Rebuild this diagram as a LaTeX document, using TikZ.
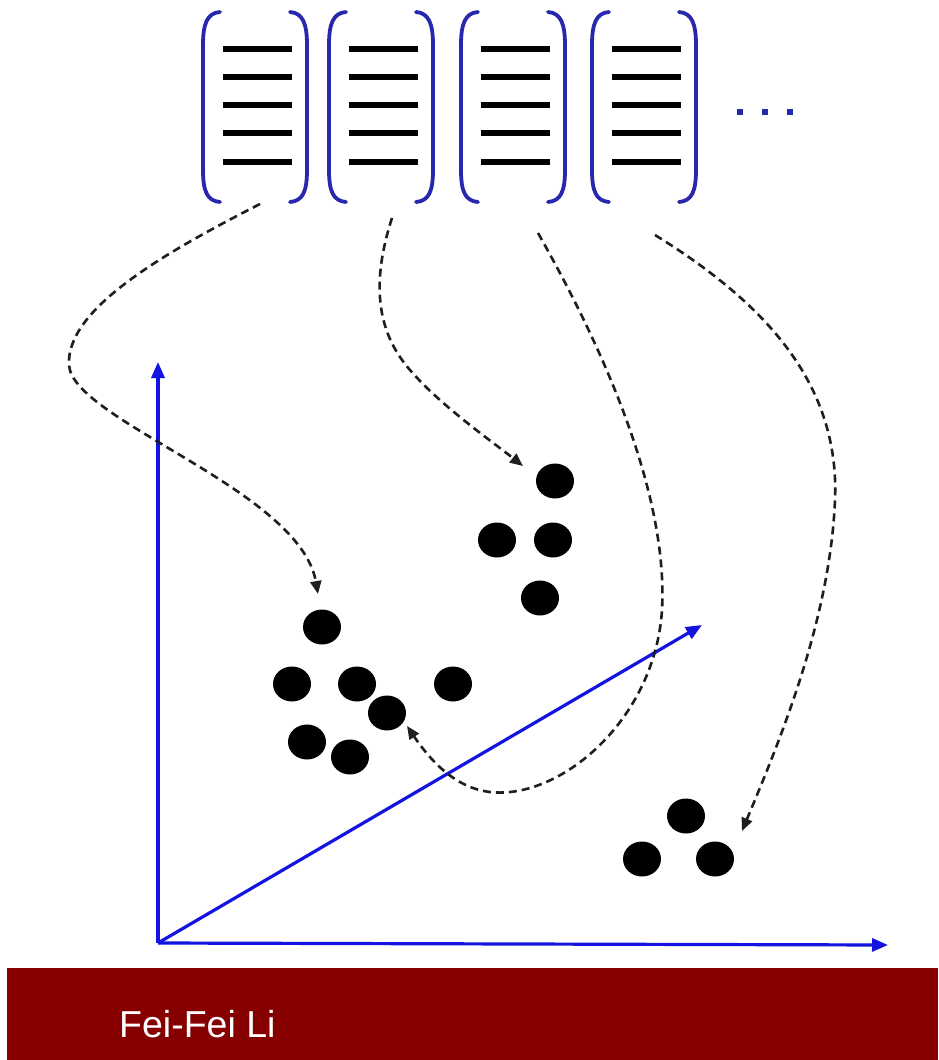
\documentclass[tikz,border=0pt]{standalone}
\usepackage{fontspec}
\setmainfont{Liberation Sans}
\usetikzlibrary{arrows.meta,shapes.geometric}
\definecolor{parcol}{RGB}{40,40,175}
\definecolor{axiscol}{RGB}{20,20,225}
\definecolor{barcol}{RGB}{135,0,0}
\definecolor{dashcol}{RGB}{30,30,30}
\tikzset{
  paren/.style={parcol, line width=3.8pt, line cap=round},
  featline/.style={black, line width=6pt},
  axisline/.style={axiscol, line width=3.2pt, -{Triangle[length=16pt,width=13pt]}},
  dot/.style={ellipse, fill=black, minimum width=38pt, minimum height=35pt, inner sep=0pt},
  maparrow/.style={dashcol, line width=2.6pt, dash pattern=on 8pt off 5pt, -{Triangle[length=13pt,width=11pt]}},
  ellipsisdot/.style={rectangle, fill=parcol, minimum size=6.5pt, inner sep=0pt}
}
\begin{document}
\begin{tikzpicture}[x=1pt,y=-1pt]
\useasboundingbox (0,0) rectangle (938,1060);
\fill[white] (0,0) rectangle (938,1060);

% feature vectors (brackets with lines)
\foreach \L in {203,329,461,592}{
  \draw[paren] (\L+17,12) .. controls (\L+4,13) and (\L,24) .. (\L,45) -- (\L,170) .. controls (\L,191) and (\L+4,201) .. (\L+17,202);
  \draw[paren] (\L+87,12) .. controls (\L+100,13) and (\L+104,24) .. (\L+104,45) -- (\L+104,170) .. controls (\L+104,191) and (\L+100,201) .. (\L+87,202);
  \foreach \y in {49,77,105,133,162}{
    \draw[featline] (\L+20,\y) -- (\L+89,\y);
  }
}
\node[ellipsisdot] (e1) at (740,112) {};
\node[ellipsisdot] (e2) at (765,112) {};
\node[ellipsisdot] (e3) at (790,112) {};

% axes
\coordinate (O) at (158,943);
\coordinate (Ytip) at (158,362);
\coordinate (Xtip) at (888,945);
\coordinate (Ztip) at (702,625);
\draw[axisline] (O) -- (Ytip);
\draw[axisline] (O) -- (Xtip);
\draw[axisline] (O) -- (Ztip);

% clusters
\node[dot] (a1) at (322,627) {};
\node[dot] (a2) at (292,684) {};
\node[dot] (a3) at (357,684) {};
\node[dot] (a4) at (453,684) {};
\node[dot] (a5) at (387,713) {};
\node[dot] (a6) at (307,742) {};
\node[dot] (a7) at (350,757) {};

\node[dot] (b1) at (555,481) {};
\node[dot] (b2) at (497,540) {};
\node[dot] (b3) at (553,540) {};
\node[dot] (b4) at (540,598) {};

\node[dot] (c1) at (686,816) {};
\node[dot] (c2) at (642,859) {};
\node[dot] (c3) at (715,859) {};

% mapping arrows
\coordinate (s1) at (260,204);
\coordinate (s2) at (392,218);
\coordinate (s3) at (538,233);
\coordinate (s4) at (655,235);
\coordinate (t1) at (318,594);
\coordinate (t2) at (523,466);
\coordinate (t3) at (407,726);
\coordinate (t4) at (742,831);

\draw[maparrow] (s1) .. controls (160,255) and (66,310) .. (69,365) .. controls (72,420) and (300,490) .. (t1);
\draw[maparrow] (s2) .. controls (372,280) and (375,330) .. (410,370) .. controls (440,405) and (490,440) .. (t2);
\draw[maparrow] (s3) .. controls (610,360) and (668,500) .. (662,610) .. controls (655,720) and (560,800) .. (490,792) .. controls (455,788) and (430,760) .. (t3);
\draw[maparrow] (s4) .. controls (760,300) and (840,380) .. (835,500) .. controls (830,620) and (780,740) .. (t4);

% bottom bar
\fill[barcol] (7,968) rectangle (938,1060);
\node[anchor=base west, inner sep=0pt, text=white, font=\fontsize{37.5}{40}\selectfont] (author) at (119,1037) {Fei-Fei Li};
\end{tikzpicture}
\end{document}
